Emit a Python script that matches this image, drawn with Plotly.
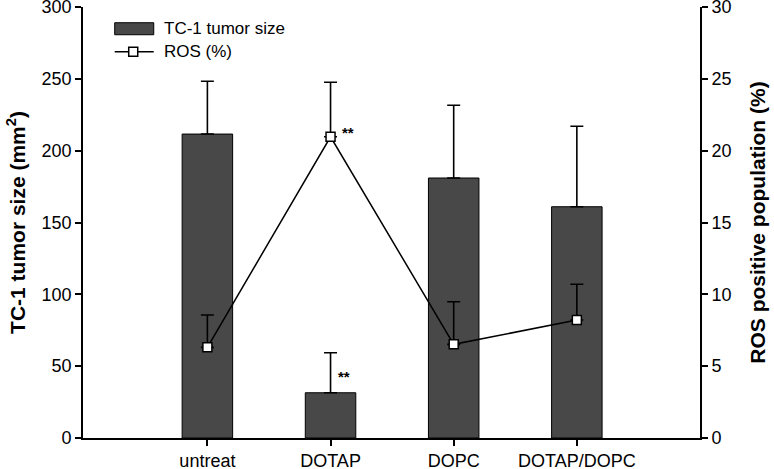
import plotly.graph_objects as go

categories = ["untreat", "DOTAP", "DOPC", "DOTAP/DOPC"]
tumor_size = [211.6, 31.5, 181.0, 161.0]
tumor_err = [36.8, 27.9, 50.7, 56.0]
ros_pct = [6.31, 20.97, 6.52, 8.21]
ros_err = [2.25, 3.80, 2.97, 2.49]
left_ticks = [0, 50, 100, 150, 200, 250, 300]
right_ticks = [0, 5, 10, 15, 20, 25, 30]

FONT = "Liberation Sans, Arial, sans-serif"
W, H = 774, 469
L, R, T, B = 83.3, 74, 7.3, 31.3
pw = W - L - R
ph = H - T - B

def px(x):
    return (x - L) / pw

def py(y):
    return (H - B - y) / ph

fig = go.Figure()
fig.add_trace(go.Bar(
    x=categories, y=tumor_size, name="TC-1 tumor size",
    width=0.41,
    marker=dict(color="#484848", line=dict(color="black", width=1)),
    error_y=dict(type="data", array=tumor_err, arrayminus=[0]*4, symmetric=False,
                 color="black", thickness=1.6, width=6.5),
    yaxis="y", showlegend=False,
))
fig.add_trace(go.Scatter(
    x=categories, y=ros_pct, name="ROS (%)", mode="lines+markers",
    line=dict(color="black", width=1.5),
    marker=dict(symbol="square", size=9, color="white", line=dict(color="black", width=1.5)),
    error_y=dict(type="data", array=ros_err, arrayminus=[0]*4, symmetric=False,
                 color="black", thickness=1.6, width=6.5),
    yaxis="y2", showlegend=False,
))

# manual legend
shapes = [
    dict(type="rect", xref="paper", yref="paper",
         x0=px(115), x1=px(154), y0=py(35), y1=py(23),
         fillcolor="#484848", line=dict(color="black", width=1)),
    dict(type="line", xref="paper", yref="paper",
         x0=px(115), x1=px(154), y0=py(52), y1=py(52),
         line=dict(color="black", width=1.5)),
    dict(type="rect", xref="paper", yref="paper",
         x0=px(129), x1=px(138), y0=py(56.5), y1=py(47.5),
         fillcolor="white", line=dict(color="black", width=1.5)),
]
annotations = [
    dict(text="TC-1 tumor size", xref="paper", yref="paper", x=px(162), y=py(29),
         xanchor="left", yanchor="middle", showarrow=False,
         font=dict(family=FONT, size=17, color="black")),
    dict(text="ROS (%)", xref="paper", yref="paper", x=px(162), y=py(52),
         xanchor="left", yanchor="middle", showarrow=False,
         font=dict(family=FONT, size=17, color="black")),
    dict(text="<b>**</b>", xref="x", yref="y2", x=1, y=ros_pct[1],
         xshift=17, yshift=4, xanchor="center", yanchor="middle", showarrow=False,
         font=dict(family=FONT, size=15, color="black")),
    dict(text="<b>**</b>", xref="x", yref="y", x=1, y=tumor_size[1],
         xshift=13.5, yshift=16, xanchor="center", yanchor="middle", showarrow=False,
         font=dict(family=FONT, size=15, color="black")),
]

fig.update_layout(
    width=W, height=H,
    margin=dict(l=L, r=R, t=T, b=B, autoexpand=False),
    paper_bgcolor="white", plot_bgcolor="white",
    font=dict(family=FONT, size=18, color="black"),
    showlegend=False,
    shapes=shapes, annotations=annotations,
    xaxis=dict(
        type="category", range=[-1.01, 4.0],
        showline=True, linecolor="black", linewidth=1.6,
        ticks="outside", ticklen=6, tickwidth=1.5, tickcolor="black",
        showgrid=False, zeroline=False,
        tickfont=dict(family=FONT, size=18, color="black"),
    ),
    yaxis=dict(
        range=[0, 300.05], tickvals=left_ticks, ticklabeloverflow="allow",
        showline=True, linecolor="black", linewidth=1.6,
        ticks="outside", ticklen=6, tickwidth=1.5, tickcolor="black",
        showgrid=False, zeroline=False,
        tickfont=dict(family=FONT, size=18, color="black"),
        title=dict(text="<b>TC-1 tumor size (mm<sup>2</sup>)</b>",
                   font=dict(family=FONT, size=21, color="black"), standoff=10),
    ),
    yaxis2=dict(
        range=[0, 30.005], tickvals=right_ticks, overlaying="y", side="right",
        ticklabeloverflow="allow",
        showline=True, linecolor="black", linewidth=1.6,
        ticks="outside", ticklen=6, tickwidth=1.5, tickcolor="black",
        showgrid=False, zeroline=False,
        tickfont=dict(family=FONT, size=18, color="black"),
        title=dict(text="<b>ROS positive population (%)</b>",
                   font=dict(family=FONT, size=21, color="black"), standoff=20),
    ),
)

fig.write_html("out.html", config={"displayModeBar": False},
               post_script="document.body.style.margin='0';")
